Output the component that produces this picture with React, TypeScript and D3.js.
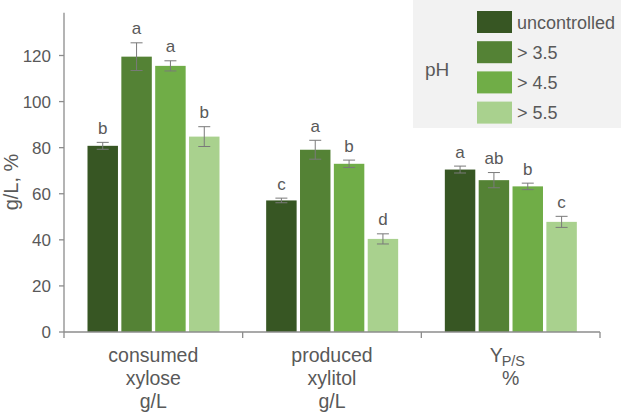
import React from "react";
import * as d3 from "d3";

const categories: string[][] = [
  ["consumed", "xylose", "g/L"],
  ["produced", "xylitol", "g/L"],
  ["Y", "%"],
];
const categoryKeys = ["xylose", "xylitol", "yield"];
const seriesNames = ["uncontrolled", "> 3.5", "> 4.5", "> 5.5"];
const seriesColors = ["#375623", "#548235", "#70AD47", "#A9D18E"];

const valuesUncontrolled = [80.8, 57.1, 70.5];
const values35 = [119.5, 79.1, 65.9];
const values45 = [115.5, 73.0, 63.2];
const values55 = [84.8, 40.4, 47.8];

const errUncontrolled = [1.5, 1.0, 1.5];
const err35 = [6.0, 4.1, 3.3];
const err45 = [2.2, 1.6, 1.4];
const err55 = [4.3, 2.2, 2.4];

const lettersUncontrolled = ["b", "c", "a"];
const letters35 = ["a", "a", "ab"];
const letters45 = ["a", "b", "b"];
const letters55 = ["b", "d", "c"];

const yTicks = [0, 20, 40, 60, 80, 100, 120];

const allValues = [valuesUncontrolled, values35, values45, values55];
const allErrors = [errUncontrolled, err35, err45, err55];
const allLetters = [lettersUncontrolled, letters35, letters45, letters55];

const W = 623;
const H = 413;
const TEXT = "#595959";
const AXIS = "#8c8c8c";
const FONT = "'Liberation Sans', Arial, sans-serif";

export default function App() {
  const x0 = d3.scaleBand<string>().domain(categoryKeys).range([64, 600]).padding(0);
  const x1 = d3
    .scaleBand<string>()
    .domain(seriesNames)
    .range([23.5, 155.5])
    .paddingInner(0.1)
    .paddingOuter(0);
  const y = d3.scaleLinear().domain([0, 120]).range([332, 55.5]);
  const yTop = y(138.5);

  return (
    <svg
      width={W}
      height={H}
      style={{ position: "absolute", left: 0, top: 0, background: "#fff" }}
      fontFamily={FONT}
    >
      {/* legend */}
      <rect x={413} y={0} width={208} height={128} fill="#f2f2f2" />
      <text x={425} y={76} fontSize={19} fill={TEXT}>
        pH
      </text>
      {seriesNames.map((s, i) => (
        <g key={s}>
          <rect x={477} y={11 + i * 30.2} width={35} height={22} fill={seriesColors[i]} />
          <text x={517} y={28.5 + i * 30.2} fontSize={18} fill={TEXT}>
            {s}
          </text>
        </g>
      ))}

      {/* bars */}
      {categoryKeys.map((c, ci) => (
        <g key={c} transform={`translate(${x0(c)},0)`}>
          {seriesNames.map((s, si) => {
            const v = allValues[si][ci];
            const e = allErrors[si][ci];
            const bx = x1(s)!;
            const bw = x1.bandwidth();
            const cx = bx + bw / 2;
            return (
              <g key={s}>
                <rect x={bx} y={y(v)} width={bw} height={y(0) - y(v)} fill={seriesColors[si]} />
                <g stroke="#7a7a7a" strokeWidth={1}>
                  <line x1={cx} x2={cx} y1={y(v + e)} y2={y(v - e)} />
                  <line x1={cx - 6} x2={cx + 6} y1={y(v + e)} y2={y(v + e)} />
                  <line x1={cx - 6} x2={cx + 6} y1={y(v - e)} y2={y(v - e)} />
                </g>
                <text
                  x={cx}
                  y={y(v + e) - 8.5}
                  textAnchor="middle"
                  fontSize={17}
                  fill={TEXT}
                >
                  {allLetters[si][ci]}
                </text>
              </g>
            );
          })}
        </g>
      ))}

      {/* y axis */}
      <line x1={64} x2={64} y1={yTop} y2={y(0)} stroke={AXIS} strokeWidth={1.3} />
      {yTicks.map((t) => (
        <g key={t}>
          <line x1={59} x2={64} y1={y(t)} y2={y(t)} stroke={AXIS} strokeWidth={1.3} />
          <text x={51} y={y(t) + 6} textAnchor="end" fontSize={17} fill={TEXT}>
            {t}
          </text>
        </g>
      ))}
      <text
        transform={`translate(18,182) rotate(-90)`}
        textAnchor="middle"
        fontSize={20}
        fill={TEXT}
      >
        g/L, %
      </text>

      {/* x axis */}
      <line x1={64} x2={600} y1={y(0)} y2={y(0)} stroke={AXIS} strokeWidth={1.3} />
      {[...categoryKeys.map((c) => x0(c)!), 600].map((t, i) => (
        <line key={i} x1={t} x2={t} y1={y(0)} y2={y(0) + 6} stroke={AXIS} strokeWidth={1.3} />
      ))}
      {categoryKeys.map((c, ci) => {
        const cx = x0(c)! + x0.bandwidth() / 2;
        const lines = categories[ci];
        if (c === "yield") {
          return (
            <g key={c}>
              <text x={cx - 8} y={362} textAnchor="end" fontSize={19.5} fill={TEXT}>
                {lines[0]}
              </text>
              <text x={cx - 9} y={365.5} textAnchor="start" fontSize={14.5} fill={TEXT}>
                P/S
              </text>
              <text x={cx} y={385} textAnchor="middle" fontSize={19.5} fill={TEXT}>
                {lines[1]}
              </text>
            </g>
          );
        }
        return (
          <g key={c}>
            {lines.map((l, li) => (
              <text
                key={li}
                x={cx}
                y={362 + li * 23}
                textAnchor="middle"
                fontSize={19.5}
                fill={TEXT}
              >
                {l}
              </text>
            ))}
          </g>
        );
      })}
    </svg>
  );
}
